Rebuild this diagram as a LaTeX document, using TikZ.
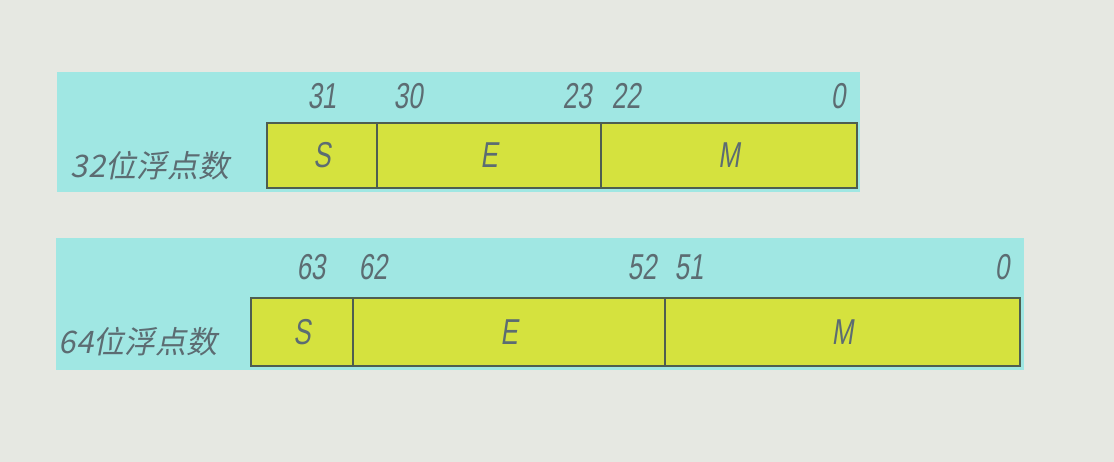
\documentclass[tikz,border=0pt]{standalone}
\usepackage{fontspec}
\usetikzlibrary{positioning}
\newfontfamily\cjkfont[FakeSlant=0.2]{Noto Sans CJK SC}
\newfontfamily\bitfont[FakeSlant=0.15,FakeStretch=0.72]{Liberation Sans}
\definecolor{Page}{HTML}{E6E8E2}
\definecolor{Panel}{HTML}{A0E7E3}
\definecolor{Field}{HTML}{D5E23E}
\definecolor{Edge}{HTML}{4E5E50}
\definecolor{Ink}{HTML}{5C6C72}
\tikzset{field/.style={draw=Edge,fill=Field,line width=1.5pt,inner sep=0pt,outer sep=0pt,anchor=north west,text=Ink,font=\bitfont\fontsize{36}{36}\selectfont},next/.style={anchor=west,right=0pt of #1},bitnum/.style={text=Ink,inner sep=0pt,font=\bitfont\fontsize{36}{36}\selectfont},fmtlabel/.style={text=Ink,inner sep=0pt,font=\cjkfont\fontsize{31}{31}\selectfont}}
\begin{document}
\begin{tikzpicture}[x=1pt,y=-1pt]
  \fill[Page](0,0)rectangle(1114,462);
  \useasboundingbox(0,0)rectangle(1114,462);
  % panels
  \fill[Panel](57,72)rectangle(860,192);
  \fill[Panel](56,238)rectangle(1024,370);
  % 32 bit
  \node[field,minimum width=110pt,minimum height=65pt](s32)at(267,123){S};
  \node[field,minimum width=224pt,minimum height=65pt,next=s32](e32){E};
  \node[field,minimum width=256pt,minimum height=65pt,next=e32](m32){M};
  \node[fmtlabel](lab32)at(150,166){32位浮点数};
  \node[bitnum](b31)at(322,96){31};
  \node[bitnum](b30)at(408,96){30};
  \node[bitnum](b23)at(577,96){23};
  \node[bitnum](b22)at(626,96){22};
  \node[bitnum](b0a)at(838,96){0};
  % 64 bit
  \node[field,minimum width=102pt,minimum height=68pt](s64)at(251,298){S};
  \node[field,minimum width=312pt,minimum height=68pt,next=s64](e64){E};
  \node[field,minimum width=355pt,minimum height=68pt,next=e64](m64){M};
  \node[fmtlabel](lab64)at(138,342){64位浮点数};
  \node[bitnum](b63)at(311,267){63};
  \node[bitnum](b62)at(373,267){62};
  \node[bitnum](b52)at(642,267){52};
  \node[bitnum](b51)at(689,267){51};
  \node[bitnum](b0b)at(1002,267){0};
\end{tikzpicture}
\end{document}
